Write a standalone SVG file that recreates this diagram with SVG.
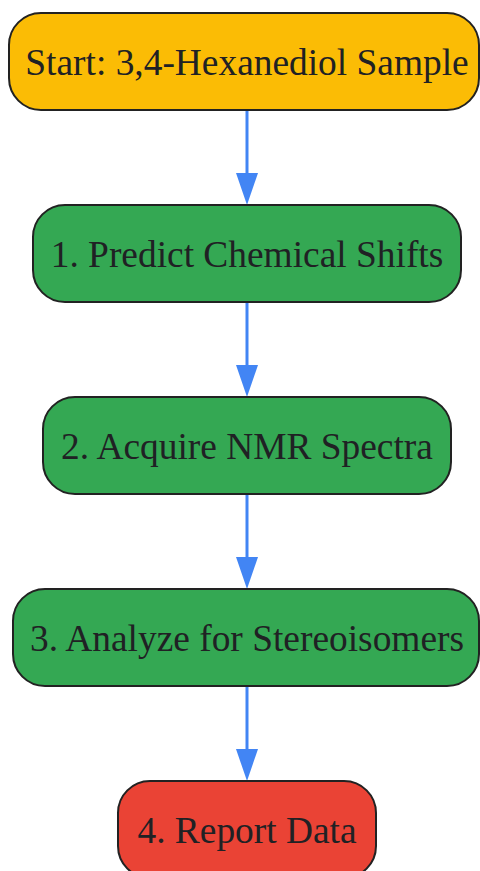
<svg xmlns="http://www.w3.org/2000/svg" width="480" height="871" viewBox="0 0 480 871">
<style>
.n rect{stroke:#222222;stroke-width:2}
.n text{font-family:"Liberation Serif",serif;font-size:37.4px;fill:#202124;text-anchor:middle}
.e{stroke:#4285F4;stroke-width:3;fill:none}
.h{fill:#4285F4}
</style>
<rect width="480" height="871" fill="#ffffff"/>
<g id="edges">
<line class="e" x1="247" y1="110" x2="247" y2="176"/><path class="h" d="M236,173 L258,173 L247,205 Z"/>
<line class="e" x1="247" y1="302" x2="247" y2="368"/><path class="h" d="M236,365 L258,365 L247,397 Z"/>
<line class="e" x1="247" y1="494" x2="247" y2="560"/><path class="h" d="M236,557 L258,557 L247,589 Z"/>
<line class="e" x1="247" y1="686" x2="247" y2="752"/><path class="h" d="M236,749 L258,749 L247,781 Z"/>
</g>
<g id="n0" class="n"><rect x="9" y="13" width="470" height="97" rx="32" fill="#FBBC05"/><text x="247" y="75">Start: 3,4-Hexanediol Sample</text></g>
<g id="n1" class="n"><rect x="33" y="205" width="428" height="97" rx="32" fill="#34A853"/><text x="247" y="267">1. Predict Chemical Shifts</text></g>
<g id="n2" class="n"><rect x="43" y="397" width="408" height="97" rx="32" fill="#34A853"/><text x="247" y="459">2. Acquire NMR Spectra</text></g>
<g id="n3" class="n"><rect x="13" y="589" width="466" height="97" rx="32" fill="#34A853"/><text x="247" y="651">3. Analyze for Stereoisomers</text></g>
<g id="n4" class="n"><rect x="118" y="781" width="258" height="97" rx="32" fill="#EA4335"/><text x="247" y="843">4. Report Data</text></g>
</svg>
